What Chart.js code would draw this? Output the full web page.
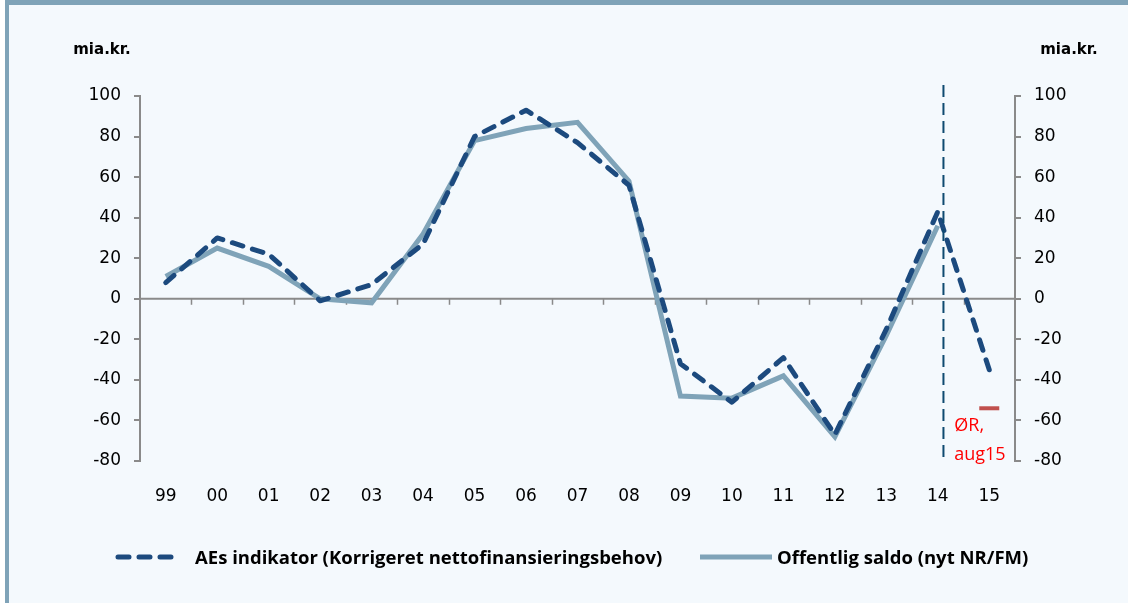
<!DOCTYPE html>
<html>
<head>
<meta charset="utf-8">
<script src="https://cdn.jsdelivr.net/npm/chart.js@4.4.0/dist/chart.umd.min.js"></script>
<style>
  body { margin: 0; background: #fff; width: 1128px; height: 603px; overflow: hidden; }
  .frame {
    position: absolute; left: 5px; top: 0; width: 1123px; height: 603px;
    box-sizing: border-box; background: #f4f9fd;
    border-left: 4px solid #7fa3b8; border-top: 5px solid #7fa3b8;
  }
  #c { position: absolute; left: 0; top: 0; }
  .leg { position: absolute; top: 547px; font: bold 18.5px "Open Sans", sans-serif; color: #000; line-height: 20px; white-space: nowrap; }
  .leg svg { position: absolute; top: 0; }
</style>
</head>
<body>
<div class="frame"></div>
<canvas id="c" width="1128" height="603"></canvas>
<div class="leg" style="left:115px">
  <svg width="70" height="20" style="left:0"><line x1="3" y1="10" x2="66" y2="10" stroke="#1c4a7e" stroke-width="5" stroke-linecap="round" stroke-dasharray="11 10"/></svg>
  <span style="position:absolute; left:80px">AEs indikator (Korrigeret nettofinansieringsbehov)</span>
</div>
<div class="leg" style="left:698px">
  <svg width="76" height="20" style="left:0"><line x1="2" y1="10" x2="74" y2="10" stroke="#7fa3b8" stroke-width="5"/></svg>
  <span style="position:absolute; left:79px">Offentlig saldo (nyt NR/FM)</span>
</div>
<script>
// år (x-akse)
const years = ['99','00','01','02','03','04','05','06','07','08','09','10','11','12','13','14','15'];

// AEs indikator (Korrigeret nettofinansieringsbehov)
const aeIndikator = [8, 30, 22, -1, 7, 27, 80, 93, 77, 56, -32, -51, -29, -67, -15, 43, -35];

// Offentlig saldo (nyt NR/FM)
const offSaldo = [11, 25, 16, 0, -2, 32, 78, 84, 87, 58, -48, -49, -38, -68, -18, 36, null];

// ØR aug15 skøn for 2015
const oerAug15 = [null, null, null, null, null, null, null, null, null, null, null, null, null, null, null, null, -54];

const yTicks = [-80, -60, -40, -20, 0, 20, 40, 60, 80, 100];

const axisGrey = '#8a8a8a';

// nul-linje, streger og tekster
const extras = {
  id: 'extras',
  beforeDatasetsDraw(chart) {
    const {ctx, chartArea, scales} = chart;
    const x = scales.x, y = scales.y;
    const y0 = y.getPixelForValue(0);
    const step = x.getPixelForValue(1) - x.getPixelForValue(0);
    ctx.save();
    ctx.strokeStyle = axisGrey;
    ctx.lineWidth = 2;
    ctx.beginPath();
    ctx.moveTo(chartArea.left, y0);
    ctx.lineTo(chartArea.right, y0);
    ctx.stroke();
    ctx.lineWidth = 1.5;
    for (let i = 1; i < years.length; i++) {
      const px = Math.round(x.getPixelForValue(i) - step / 2) + 0.5;
      ctx.beginPath();
      ctx.moveTo(px, y0);
      ctx.lineTo(px, y0 + 6);
      ctx.stroke();
    }
    ctx.restore();
  },
  afterDatasetsDraw(chart) {
    const {ctx, chartArea, scales} = chart;
    const x = scales.x;
    const step = x.getPixelForValue(1) - x.getPixelForValue(0);
    const px = x.getPixelForValue(15) + step * 0.11;
    ctx.save();
    ctx.strokeStyle = '#0e4a70';
    ctx.lineWidth = 2;
    ctx.setLineDash([12, 6]);
    ctx.beginPath();
    ctx.moveTo(px, chartArea.top - 11);
    ctx.lineTo(px, chartArea.bottom);
    ctx.stroke();
    ctx.setLineDash([]);

    ctx.fillStyle = '#ff0000';
    ctx.font = '18px "Open Sans"';
    ctx.textBaseline = 'middle';
    ctx.textAlign = 'left';
    const tx = x.getPixelForValue(16) - 35;
    ctx.fillText('ØR,', tx, scales.y.getPixelForValue(-62.5));
    ctx.fillText('aug15', tx, scales.y.getPixelForValue(-77));

    ctx.fillStyle = '#000';
    ctx.font = 'bold 15px "DejaVu Sans"';
    ctx.textAlign = 'center';
    ctx.fillText('mia.kr.', 102, 50);
    ctx.fillText('mia.kr.', 1069, 50);
    ctx.restore();
  }
};

const tickFont = {family: '"DejaVu Sans"', size: 17};

new Chart(document.getElementById('c'), {
  type: 'line',
  data: {
    labels: years,
    datasets: [
      {
        label: 'AEs indikator (Korrigeret nettofinansieringsbehov)',
        data: aeIndikator,
        borderColor: '#1c4a7e',
        borderWidth: 5,
        borderDash: [11, 10],
        borderCapStyle: 'round',
        borderJoinStyle: 'round',
        pointRadius: 0,
        tension: 0,
        order: 1
      },
      {
        label: 'Offentlig saldo (nyt NR/FM)',
        data: offSaldo,
        borderColor: '#7fa3b8',
        borderWidth: 5,
        borderJoinStyle: 'miter',
        pointRadius: 0,
        tension: 0,
        order: 2
      },
      {
        label: 'ØR, aug15',
        data: oerAug15,
        showLine: false,
        pointStyle: 'line',
        pointRadius: 10,
        pointBorderWidth: 4,
        pointBorderColor: '#c0504d',
        pointBackgroundColor: '#c0504d',
        order: 0
      }
    ]
  },
  options: {
    responsive: false,
    animation: false,
    layout: {padding: {top: 96, left: 0, right: 0, bottom: 92}},
    plugins: {
      legend: {display: false},
      tooltip: {enabled: false}
    },
    scales: {
      x: {
        offset: true,
        grid: {display: false},
        border: {display: false},
        ticks: {font: tickFont, color: '#000', padding: 17, maxRotation: 0},
        afterFit: s => { s.height = 50; }
      },
      y: {
        position: 'left',
        min: -80, max: 100,
        afterBuildTicks: s => { s.ticks = yTicks.map(v => ({value: v})); },
        grid: {drawOnChartArea: false, color: axisGrey, lineWidth: 2, tickLength: 6},
        border: {color: axisGrey, width: 2},
        ticks: {font: tickFont, color: '#000', padding: 13},
        afterFit: s => { s.width = 140; }
      },
      y2: {
        position: 'right',
        min: -80, max: 100,
        afterBuildTicks: s => { s.ticks = yTicks.map(v => ({value: v})); },
        grid: {drawOnChartArea: false, color: axisGrey, lineWidth: 2, tickLength: 6},
        border: {color: axisGrey, width: 2},
        ticks: {font: tickFont, color: '#000', padding: 13},
        afterFit: s => { s.width = 113; }
      }
    }
  },
  plugins: [extras]
});
</script>
</body>
</html>
